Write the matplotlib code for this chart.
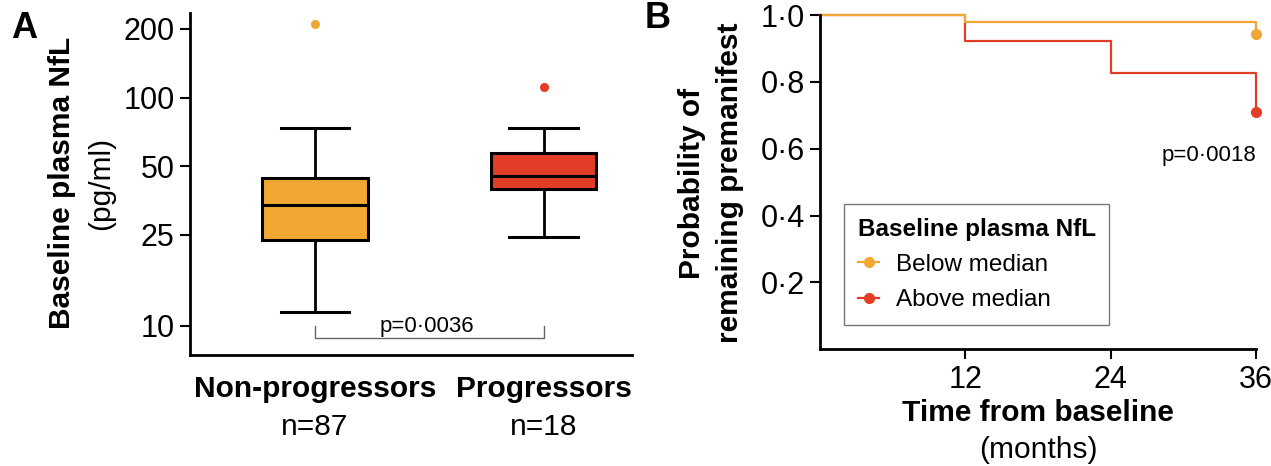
import matplotlib
matplotlib.use('Agg')
import matplotlib.pyplot as plt
from matplotlib.legend_handler import HandlerLine2D
from matplotlib.lines import Line2D

plt.rcParams['font.family'] = ['Liberation Sans', 'DejaVu Sans']

# panel A: box stats (pg/ml)
grupos = ['Non-progressors', 'Progressors']
n_grupos = ['n=87', 'n=18']
whislo = [11.5, 24.5]
q1 = [23.8, 39.9]
mediana = [33.8, 45.3]
q3 = [44.3, 57.0]
whishi = [73.4, 73.4]
outliers = [[210], [111]]
p_a = 'p=0·0036'
yticks_a = [10, 25, 50, 100, 200]

# panel B: Kaplan-Meier steps
meses = [0, 12, 24, 36]
abaixo = [1.0, 0.98, 0.98, 0.942]
acima = [1.0, 0.923, 0.827, 0.711]
p_b = 'p=0·0018'
yticks_b = [0.2, 0.4, 0.6, 0.8, 1.0]
xticks_b = [12, 24, 36]

laranja = '#F1A733'
vermelho = '#E23D26'
fs = 21.5
fs_tick = 22

fig = plt.figure(figsize=(12.71, 4.66), dpi=100)

# ---------- A ----------
axA = fig.add_axes([0.1495, 0.2382, 0.3478, 0.734])
stats = []
for i in range(len(grupos)):
    stats.append(dict(med=mediana[i], q1=q1[i], q3=q3[i], whislo=whislo[i],
                      whishi=whishi[i], fliers=outliers[i]))
bp = axA.bxp(stats, positions=[0, 1], widths=0.46, patch_artist=True,
             showfliers=True, capwidths=0.30,
             boxprops=dict(linewidth=2.2, edgecolor='black'),
             medianprops=dict(color='black', linewidth=2.2),
             whiskerprops=dict(color='black', linewidth=2.0),
             capprops=dict(color='black', linewidth=2.2))
for caixa, cor in zip(bp['boxes'], [laranja, vermelho]):
    caixa.set_facecolor(cor)
for fl, cor in zip(bp['fliers'], [laranja, vermelho]):
    fl.set(marker='o', markerfacecolor=cor, markeredgecolor=cor, markersize=5.5)

axA.set_yscale('log')
axA.set_ylim(7.44, 235)
axA.set_xlim(-0.547, 1.387)
axA.set_yticks(yticks_a)
axA.set_yticklabels([str(t) for t in yticks_a])
axA.minorticks_off()
axA.set_xticks([])
for s in ['top', 'right']:
    axA.spines[s].set_visible(False)
for s in ['left', 'bottom']:
    axA.spines[s].set_linewidth(2.0)
axA.tick_params(axis='y', length=7, width=1.5, labelsize=fs_tick, pad=4)

# bracket
axA.plot([0, 0, 1, 1], [10, 8.86, 8.86, 10], color='#666666', linewidth=1.0)
axA.text(0.49, 9.35, p_a, ha='center', va='baseline', fontsize=16)

for i in range(len(grupos)):
    axA.text(i, -0.10, grupos[i], transform=axA.get_xaxis_transform(),
             ha='center', va='center', fontsize=fs, fontweight='bold')
    axA.text(i, -0.21, n_grupos[i], transform=axA.get_xaxis_transform(),
             ha='center', va='center', fontsize=fs)

fig.text(62 / 1271, 1 - 183 / 466, 'Baseline plasma NfL', rotation=90,
         ha='center', va='center', fontsize=fs, fontweight='bold')
fig.text(101 / 1271, 1 - 183 / 466, '(pg/ml)', rotation=90,
         ha='center', va='center', fontsize=fs)
fig.text(24 / 1271, 1 - 29 / 466, 'A', ha='center', va='center',
         fontsize=26, fontweight='bold')

# ---------- B ----------
axB = fig.add_axes([0.6452, 0.2504, 0.343, 0.7174])
axB.step(meses, acima, where='post', color=vermelho, linewidth=1.6, clip_on=False)
axB.plot(meses[-1], acima[-1], 'o', color=vermelho, markersize=7, clip_on=False)
axB.step(meses, abaixo, where='post', color=laranja, linewidth=1.6, clip_on=False)
axB.plot(meses[-1], abaixo[-1], 'o', color=laranja, markersize=7, clip_on=False)
axB.set_xlim(0, 36)
axB.set_ylim(0, 1.0)
axB.set_xticks(xticks_b)
axB.set_xticklabels([str(t) for t in xticks_b])
axB.set_yticks(yticks_b)
axB.set_yticklabels([('%.1f' % t).replace('.', '·') for t in yticks_b])
for s in ['top', 'right']:
    axB.spines[s].set_visible(False)
for s in ['left', 'bottom']:
    axB.spines[s].set_linewidth(2.0)
axB.tick_params(length=7, width=1.5, labelsize=fs_tick, pad=4)

axB.text(36, 0.58, p_b, ha='right', va='center', fontsize=16)

fig.text(692 / 1271, 1 - 183 / 466, 'Probability of', rotation=90,
         ha='center', va='center', fontsize=fs, fontweight='bold')
fig.text(730 / 1271, 1 - 183 / 466, 'remaining premanifest', rotation=90,
         ha='center', va='center', fontsize=fs, fontweight='bold')
fig.text(1038 / 1271, 1 - 413 / 466, 'Time from baseline', ha='center',
         va='center', fontsize=fs, fontweight='bold')
fig.text(1038 / 1271, 1 - 450 / 466, '(months)', ha='center', va='center',
         fontsize=fs)
fig.text(658 / 1271, 1 - 18 / 466, 'B', ha='center', va='center',
         fontsize=26, fontweight='bold')


class PontoDireita(HandlerLine2D):
    def get_xdata(self, legend, xdescent, ydescent, width, height, fontsize):
        return [-xdescent, -xdescent + width], [-xdescent + width]


h1 = Line2D([], [], color=laranja, marker='o', markersize=7, linewidth=1.6)
h2 = Line2D([], [], color=vermelho, marker='o', markersize=7, linewidth=1.6)
leg = axB.legend([h1, h2], ['Below median', 'Above median'],
                 title='Baseline plasma NfL', loc='upper left',
                 bbox_to_anchor=((832 - 820) / 436, 1 - (192 - 15) / 334.3),
                 handler_map={h1: PontoDireita(), h2: PontoDireita()},
                 handlelength=0.9, handletextpad=0.7, fontsize=17.5,
                 title_fontproperties={'weight': 'bold', 'size': 17.5},
                 frameon=True, fancybox=False, borderpad=0.55, labelspacing=0.55,
                 alignment='left')
leg.get_frame().set_edgecolor('#555555')
leg.get_frame().set_linewidth(1.0)

fig.savefig('out.png', dpi=100)
